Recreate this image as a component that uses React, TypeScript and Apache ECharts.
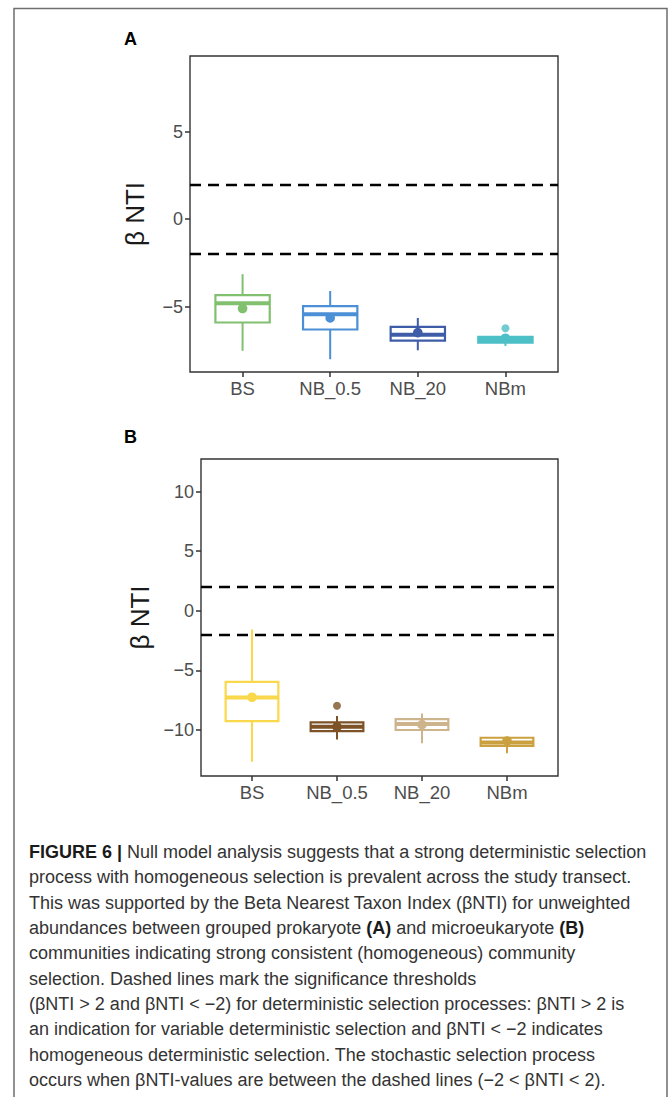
import React, { useEffect, useRef } from 'react';
import * as echarts from 'echarts';

const categories = ['BS', 'NB_0.5', 'NB_20', 'NBm'];
// Panel A (prokaryote): [lower whisker, Q1, median, Q3, upper whisker]
const boxA = [
  [-7.52, -5.9, -4.8, -4.34, -3.14],
  [-8.0, -6.3, -5.43, -4.97, -4.1],
  [-7.49, -6.94, -6.6, -6.15, -5.64],
  [-7.24, -7.05, -6.9, -6.72, -6.65],
];
const meanA = [-5.1, -5.64, -6.48, -6.8];
const outliersA = [[4, -6.23]];
// Panel B (microeukaryote)
const boxB = [
  [-12.67, -9.25, -7.27, -5.96, -1.56],
  [-10.79, -10.09, -9.73, -9.36, -8.83],
  [-11.12, -10.0, -9.5, -9.09, -8.61],
  [-11.96, -11.33, -11.04, -10.65, -10.57],
];
const meanB = [-7.25, -9.73, -9.55, -10.92];
const outliersB = [[2, -7.97]];
const yTicksA = [-5, 0, 5];
const yTicksB = [-10, -5, 0, 5, 10];
const thresholds = [2, -2];
const xTicks = [1, 2, 3, 4];

const colorsA = ['#80c06e', '#4b8fd6', '#3e5ca8', '#4dbfc7'];
const colorsB = ['#fad84b', '#7d5226', '#cdb48c', '#caa13e'];

const captionLines = [
  '{b|FIGURE 6 |} Null model analysis suggests that a strong deterministic selection',
  'process with homogeneous selection is prevalent across the study transect.',
  'This was supported by the Beta Nearest Taxon Index (βNTI) for unweighted',
  'abundances between grouped prokaryote {b|(A)} and microeukaryote {b|(B)}',
  'communities indicating strong consistent (homogeneous) community',
  'selection. Dashed lines mark the significance thresholds',
  '(βNTI > 2 and βNTI < −2) for deterministic selection processes: βNTI > 2 is',
  'an indication for variable deterministic selection and βNTI < −2 indicates',
  'homogeneous deterministic selection. The stochastic selection process',
  'occurs when βNTI-values are between the dashed lines (−2 < βNTI < 2).',
];

const FONT = 'Liberation Sans, Arial, sans-serif';
const fmtNum = (v: number) => (v < 0 ? '−' + Math.abs(v) : String(v));

const makeRender = (colors: string[]) => (params: any, api: any) => {
  const x = api.value(0);
  const lw = api.value(1), q1 = api.value(2), med = api.value(3), q3 = api.value(4), uw = api.value(5), mean = api.value(6);
  const c = colors[params.dataIndex];
  const half = api.size([0.62, 0])[0] / 2;
  const cx = api.coord([x, med])[0];
  const y = (v: number) => api.coord([x, v])[1];
  return {
    type: 'group',
    children: [
      { type: 'line', shape: { x1: cx, y1: y(uw), x2: cx, y2: y(q3) }, style: { stroke: c, lineWidth: 2 } },
      { type: 'line', shape: { x1: cx, y1: y(q1), x2: cx, y2: y(lw) }, style: { stroke: c, lineWidth: 2 } },
      { type: 'rect', shape: { x: cx - half, y: y(q3), width: half * 2, height: y(q1) - y(q3) }, style: { fill: '#fff', stroke: c, lineWidth: 2.2 } },
      { type: 'line', shape: { x1: cx - half, y1: y(med), x2: cx + half, y2: y(med) }, style: { stroke: c, lineWidth: 4 } },
      { type: 'circle', shape: { cx, cy: y(mean), r: 4.8 }, style: { fill: c } },
    ],
  };
};

const xAxisFor = (gridIndex: number) => ({
  type: 'value',
  gridIndex,
  min: 0.4,
  max: 4.6,
  splitLine: { show: false },
  axisLine: { show: false, onZero: false },
  axisTick: { show: true, customValues: xTicks, length: 5, lineStyle: { color: '#333', width: 1.5 } },
  axisLabel: {
    customValues: xTicks,
    formatter: (v: number) => categories[Math.round(v) - 1] || '',
    fontSize: 18.5,
    color: '#4d4d4d',
    fontFamily: FONT,
    margin: 7,
  },
});

const yAxisFor = (gridIndex: number, min: number, max: number, ticks: number[]) => ({
  type: 'value',
  gridIndex,
  min,
  max,
  splitLine: { show: false },
  axisLine: { show: false, onZero: false },
  axisTick: { show: true, customValues: ticks, length: 5, lineStyle: { color: '#333', width: 1.5 } },
  axisLabel: { customValues: ticks, formatter: fmtNum, fontSize: 18, color: '#4d4d4d', fontFamily: FONT, margin: 7 },
  name: 'β NTI',
  nameLocation: 'middle',
  nameRotate: 90,
  nameGap: 42,
  nameTextStyle: { fontSize: 26, color: '#1a1a1a', fontFamily: FONT },
});

const markLineCfg = {
  silent: true,
  symbol: ['none', 'none'],
  label: { show: false },
  lineStyle: { color: '#000', width: 2.3, type: [11, 7] },
  data: thresholds.map((t) => ({ yAxis: t })),
};

export default function App() {
  const ref = useRef<HTMLDivElement>(null);
  useEffect(() => {
    if (!ref.current) return;
    const chart = echarts.init(ref.current, undefined, { renderer: 'svg' });
    const option: any = {
      animation: false,
      textStyle: { fontFamily: FONT },
      grid: [
        { left: 190, top: 56, width: 368, height: 316, show: true, borderColor: '#333', borderWidth: 1.4, backgroundColor: 'transparent' },
        { left: 201, top: 459, width: 357, height: 317, show: true, borderColor: '#333', borderWidth: 1.4, backgroundColor: 'transparent' },
      ],
      xAxis: [xAxisFor(0), xAxisFor(1)],
      yAxis: [yAxisFor(0, -8.73, 9.33, yTicksA), yAxisFor(1, -13.86, 12.74, yTicksB)],
      series: [
        {
          type: 'custom',
          xAxisIndex: 0,
          yAxisIndex: 0,
          renderItem: makeRender(colorsA),
          encode: { x: 0, y: [1, 2, 3, 4, 5, 6] },
          data: boxA.map((b, i) => [xTicks[i], ...b, meanA[i]]),
          markLine: markLineCfg,
          z: 3,
        },
        {
          type: 'scatter',
          xAxisIndex: 0,
          yAxisIndex: 0,
          symbolSize: 8,
          data: outliersA.map(([c, v]) => ({ value: [c, v], itemStyle: { color: colorsA[c - 1] } })),
          z: 4,
        },
        {
          type: 'custom',
          xAxisIndex: 1,
          yAxisIndex: 1,
          renderItem: makeRender(colorsB),
          encode: { x: 0, y: [1, 2, 3, 4, 5, 6] },
          data: boxB.map((b, i) => [xTicks[i], ...b, meanB[i]]),
          markLine: markLineCfg,
          z: 3,
        },
        {
          type: 'scatter',
          xAxisIndex: 1,
          yAxisIndex: 1,
          symbolSize: 8,
          data: outliersB.map(([c, v]) => ({ value: [c, v], itemStyle: { color: colorsB[c - 1] } })),
          z: 4,
        },
      ],
      graphic: [
        { type: 'rect', shape: { x: 14, y: 8.5, width: 653, height: 1110 }, style: { fill: 'none', stroke: '#6e6e6e', lineWidth: 1.5 }, silent: true, z: -10 },
        { type: 'text', x: 124, y: 39, style: { text: 'A', fontSize: 18, fontWeight: 'bold', fill: '#000', fontFamily: FONT, verticalAlign: 'middle' } },
        { type: 'text', x: 124, y: 437, style: { text: 'B', fontSize: 18, fontWeight: 'bold', fill: '#000', fontFamily: FONT, verticalAlign: 'middle' } },
        ...captionLines.map((line, i) => ({
          type: 'text',
          x: 29,
          y: 852 + i * 25.35,
          style: {
            text: line,
            fontSize: 18,
            fontFamily: FONT,
            fill: '#333',
            verticalAlign: 'middle',
            rich: { b: { fontSize: 18, fontFamily: FONT, fontWeight: 'bold', fill: '#1a1a1a' } },
          },
        })),
      ],
    };
    chart.setOption(option);
    return () => chart.dispose();
  }, []);
  return <div ref={ref} style={{ position: 'absolute', left: 0, top: 0, width: 669, height: 1097 }} />;
}
